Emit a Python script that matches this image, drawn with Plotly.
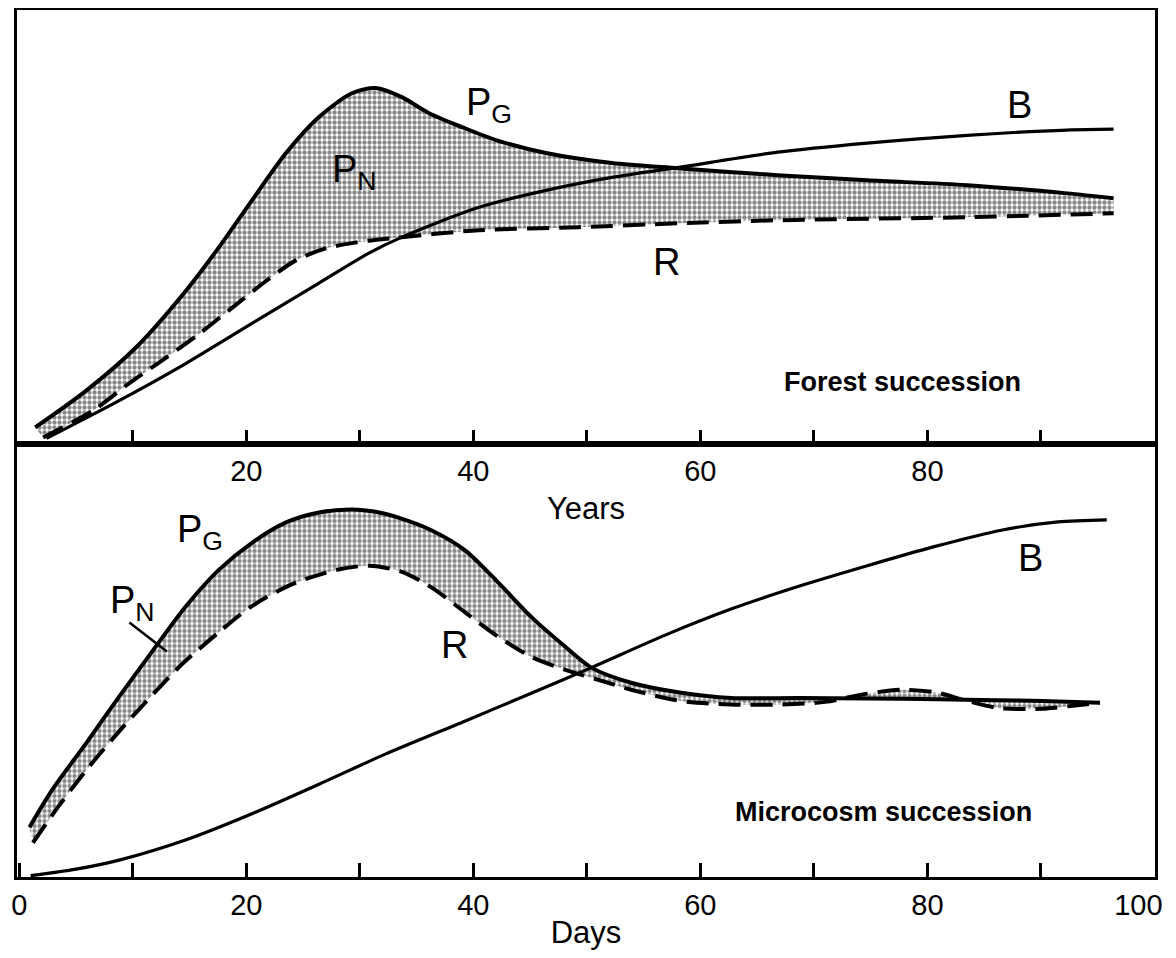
import plotly.graph_objects as go
from plotly.subplots import make_subplots

# ---- Forest succession (top panel), x in years ----
years_pg = [1.4, 5.9, 10.3, 14.7, 17.6, 20.5, 23.5, 26.4, 29.3, 31.4, 33.7, 36.1, 39.0, 42.0, 46.4, 52.2, 58.0, 66.8, 74.7, 83.5, 92.3, 96.4]
forest_pg = [3.7, 12.2, 22.2, 35.3, 45.3, 56.1, 67.0, 75.3, 80.8, 82.0, 79.9, 76.2, 73.0, 70.0, 67.0, 64.7, 63.5, 61.9, 60.7, 59.6, 57.7, 56.6]
years_r = [2.1, 6.5, 9.7, 12.6, 15.9, 18.8, 21.8, 24.4, 27.0, 29.7, 32.6, 40.5, 49.3, 58.1, 66.8, 83.5, 96.4]
forest_r = [1.4, 7.6, 13.9, 19.2, 25.4, 31.4, 37.6, 42.3, 45.0, 46.4, 47.3, 49.2, 49.9, 50.8, 51.5, 52.2, 53.1]
years_b = [2.4, 8.8, 14.7, 20.5, 26.4, 30.8, 33.7, 40.5, 46.4, 52.2, 58.1, 66.8, 74.7, 83.5, 92.3, 96.4]
forest_b = [1.2, 9.9, 18.5, 27.7, 37.0, 43.9, 47.6, 54.5, 58.4, 61.4, 63.7, 67.2, 69.3, 71.1, 72.3, 72.5]

# ---- Microcosm succession (bottom panel), x in days ----
days_pg = [0.9, 2.9, 5.9, 8.8, 11.7, 14.7, 17.6, 20.5, 23.5, 26.4, 29.3, 31.5, 33.4, 36.3, 39.3, 42.2, 45.1, 48.1, 50.4, 53.9, 58.3, 62.7, 68.6, 74.7, 80.9, 86.2, 90.1, 95.2]
micro_pg = [11.5, 20.1, 30.9, 41.6, 52.0, 62.5, 70.9, 77.1, 81.8, 84.1, 84.8, 84.2, 82.9, 80.0, 75.3, 67.9, 60.0, 53.1, 48.3, 44.8, 42.5, 41.3, 41.3, 41.2, 41.0, 40.8, 40.6, 40.2]
days_r = [1.2, 3.6, 6.2, 8.8, 11.2, 14.1, 17.6, 20.5, 24.0, 27.9, 30.8, 33.7, 36.3, 39.3, 42.2, 45.1, 48.1, 51.0, 53.9, 58.3, 62.7, 67.1, 71.0, 74.7, 77.8, 80.9, 83.1, 86.2, 90.1, 92.8, 95.2]
micro_r = [7.9, 16.8, 25.6, 33.6, 40.5, 48.5, 56.5, 62.5, 67.5, 70.8, 71.8, 70.4, 66.8, 61.0, 55.4, 50.8, 47.8, 45.5, 43.2, 40.6, 39.8, 39.8, 40.4, 42.3, 43.2, 42.5, 40.9, 39.0, 38.8, 39.5, 40.2]
days_b = [1.0, 5.0, 8.8, 14.7, 20.5, 26.4, 32.3, 39.3, 45.1, 50.4, 56.9, 62.7, 68.6, 74.7, 80.6, 86.5, 91.5, 95.8]
micro_b = [0.3, 1.8, 3.9, 8.6, 14.6, 21.4, 28.4, 36.0, 42.4, 48.3, 55.8, 61.8, 67.0, 71.8, 76.2, 80.0, 81.9, 82.4]

top_tickvals = [10, 20, 30, 40, 50, 60, 70, 80, 90]
top_ticktext = ["", "20", "", "40", "", "60", "", "80", ""]
bot_tickvals = [0, 10, 20, 30, 40, 50, 60, 70, 80, 90]
bot_ticktext = ["0", "", "20", "", "40", "", "60", "", "80", ""]
end_tickvals = [100]
end_ticktext = ["100"]

FONT = "Liberation Sans"
pattern = dict(shape=".", fgcolor="#111111", bgcolor="#ffffff", size=5, solidity=0.6)
dash = "22px,10px"
XRANGE = [-0.2, 100.05]

fig = make_subplots(rows=2, cols=1, vertical_spacing=0)

def add_panel(row, xr, yr, xg, yg, xb, yb):
    fig.add_trace(go.Scatter(x=xr, y=yr, mode="lines", line=dict(color="black", width=4, dash=dash, shape="spline", smoothing=0.8),
                             showlegend=False, hoverinfo="skip"), row=row, col=1)
    fig.add_trace(go.Scatter(x=xg, y=yg, mode="lines", line=dict(color="black", width=4, shape="spline", smoothing=0.8),
                             fill="tonexty", fillcolor="rgba(255,255,255,0)", fillpattern=pattern,
                             showlegend=False, hoverinfo="skip"), row=row, col=1)
    fig.add_trace(go.Scatter(x=xb, y=yb, mode="lines", line=dict(color="black", width=3.2, shape="spline", smoothing=0.8),
                             showlegend=False, hoverinfo="skip"), row=row, col=1)

add_panel(1, years_r, forest_r, years_pg, forest_pg, years_b, forest_b)
add_panel(2, days_r, micro_r, days_pg, micro_pg, days_b, micro_b)

tickfont = dict(family=FONT, size=29, color="black")
axis_common = dict(range=XRANGE, showgrid=False, zeroline=False, showline=True, mirror=True, automargin=False,
                   linecolor="black", linewidth=3, ticks="inside", ticklen=14, tickwidth=2.5,
                   tickcolor="black", tickfont=tickfont)
fig.update_xaxes(**axis_common, tickvals=top_tickvals, ticktext=top_ticktext,
                 title=dict(text="Years", font=dict(family=FONT, size=31, color="black"), standoff=12), row=1, col=1)
fig.update_xaxes(**axis_common, tickvals=bot_tickvals, ticktext=bot_ticktext,
                 title=dict(text="Days", font=dict(family=FONT, size=31, color="black"), standoff=10), row=2, col=1)
fig.update_yaxes(range=[0, 100], showgrid=False, zeroline=False, showline=True, mirror=True, automargin=False,
                 linecolor="black", linewidth=3, showticklabels=False, ticks="")

# overlay axis carrying only the "100" end label (shifted left as in the original)
fig.add_trace(go.Scatter(x=end_tickvals, y=[0], xaxis="x3", yaxis="y2", mode="markers",
                         marker=dict(opacity=0, size=1), showlegend=False, hoverinfo="skip"))
fig.update_layout(xaxis3=dict(overlaying="x2", anchor="y2", side="bottom", range=XRANGE, automargin=False,
                              domain=[0, 1], showgrid=False, zeroline=False,
                              showline=True, linewidth=3, linecolor="rgba(0,0,0,0)",
                              ticks="inside", ticklen=14, tickwidth=1, tickcolor="rgba(0,0,0,0)",
                              tickvals=end_tickvals, ticktext=end_ticktext, tickfont=tickfont,
                              ticklabelshift=-16))

def label(text, x, y, row, size=38, bold=False):
    ref = "" if row == 1 else "2"
    fig.add_annotation(x=x, y=y, xref="x" + ref, yref="y" + ref, text=text, showarrow=False,
                       font=dict(family=FONT, size=size, color="black", weight="bold" if bold else "normal"))

label("P<sub>G</sub>", 41.4, 78, 1)
label("P<sub>N</sub>", 29.5, 62.6, 1)
label("B", 88.1, 78, 1)
label("R", 57.0, 41.8, 1)
label("Forest succession", 77.8, 14.1, 1, size=27, bold=True)
label("P<sub>G</sub>", 15.9, 79.7, 2)
label("P<sub>N</sub>", 10.0, 63.3, 2)
label("R", 38.3, 53.6, 2)
label("B", 89.1, 73.7, 2)
label("Microcosm succession", 76.1, 15.0, 2, size=27, bold=True)

# leader line from P_N label to the shaded band (bottom panel)
fig.add_shape(type="line", x0=9.7, y0=58.7, x1=13.0, y1=52.0, xref="x2", yref="y2",
              line=dict(color="black", width=2.5))

# the page body keeps an 8px margin, so the figure is sized/offset to land on the reference pixels
fig.update_layout(width=1160, height=942, margin=dict(l=9, r=13, t=2, b=73),
                  paper_bgcolor="white", plot_bgcolor="white", showlegend=False)

fig.write_html("out.html")
